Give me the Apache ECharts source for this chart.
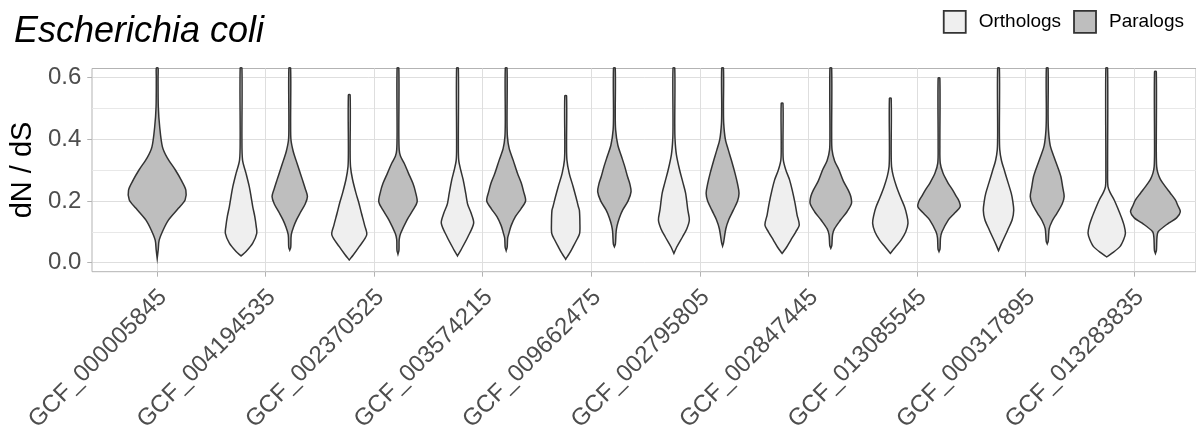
<!DOCTYPE html>
<html><head><meta charset="utf-8">
<script src="https://cdn.jsdelivr.net/npm/echarts@6/dist/echarts.min.js"></script>
<style>html,body{margin:0;padding:0;background:#fff}#c{width:1196px;height:437px}</style>
</head><body><div id="c"></div>
<script>
// ---- data ----
const categories = ['GCF_000005845','GCF_004194535','GCF_002370525','GCF_003574215','GCF_009662475',
  'GCF_002795805','GCF_002847445','GCF_013085545','GCF_000317895','GCF_013283835'];
const yTicks = [0, 0.2, 0.4, 0.6];
const groups = ['Orthologs', 'Paralogs'];
// violin outlines: [dN/dS, relative density] from bottom to top (null = group absent)
const orthologDensity = [
  null,
  [[0.022,0],[0.036,0.2],[0.063,0.47],[0.095,0.63],[0.117,0.61],[0.15,0.55],[0.181,0.47],[0.215,0.40],[0.246,0.33],[0.289,0.2],[0.332,0.06],[0.40,0.035],[1.0,0.035]],
  [[0.009,0],[0.025,0.16],[0.052,0.4],[0.09,0.7],[0.12,0.62],[0.16,0.49],[0.195,0.38],[0.225,0.27],[0.27,0.13],[0.311,0.05],[0.36,0.035],[0.543,0.035]],
  [[0.022,0],[0.04,0.13],[0.084,0.42],[0.128,0.65],[0.16,0.55],[0.18,0.45],[0.192,0.4],[0.225,0.33],[0.268,0.23],[0.30,0.13],[0.332,0.05],[0.38,0.035],[1.0,0.035]],
  [[0.011,0],[0.03,0.15],[0.052,0.3],[0.075,0.45],[0.095,0.56],[0.13,0.57],[0.17,0.55],[0.181,0.51],[0.21,0.42],[0.246,0.3],[0.29,0.14],[0.332,0.05],[0.38,0.035],[0.54,0.035]],
  [[0.03,0],[0.05,0.11],[0.084,0.35],[0.11,0.52],[0.138,0.62],[0.17,0.56],[0.225,0.47],[0.26,0.36],[0.30,0.23],[0.35,0.1],[0.40,0.045],[0.45,0.035],[1.0,0.035]],
  [[0.03,0],[0.05,0.18],[0.073,0.35],[0.1,0.55],[0.122,0.69],[0.155,0.6],[0.192,0.52],[0.23,0.42],[0.268,0.3],[0.30,0.15],[0.332,0.05],[0.38,0.035],[0.516,0.035]],
  [[0.03,0],[0.05,0.2],[0.073,0.43],[0.1,0.62],[0.128,0.71],[0.155,0.66],[0.181,0.57],[0.21,0.42],[0.246,0.25],[0.28,0.12],[0.311,0.05],[0.36,0.035],[0.532,0.035]],
  [[0.039,0],[0.06,0.11],[0.106,0.37],[0.14,0.55],[0.17,0.61],[0.2,0.57],[0.225,0.51],[0.26,0.38],[0.30,0.23],[0.33,0.12],[0.365,0.05],[0.42,0.035],[1.0,0.035]],
  [[0.019,0],[0.03,0.2],[0.052,0.53],[0.075,0.68],[0.095,0.75],[0.12,0.7],[0.149,0.58],[0.175,0.45],[0.203,0.3],[0.225,0.15],[0.246,0.05],[0.3,0.035],[1.0,0.035]]
];
const paralogDensity = [
  [[0.014,0],[0.041,0.04],[0.073,0.08],[0.106,0.24],[0.138,0.45],[0.176,0.85],[0.203,1.12],[0.235,1.15],[0.268,0.96],[0.30,0.73],[0.34,0.4],[0.375,0.21],[0.44,0.1],[0.505,0.045],[0.6,0.035],[1.0,0.035]],
  [[0.041,0],[0.05,0.04],[0.09,0.06],[0.117,0.16],[0.14,0.28],[0.16,0.41],[0.19,0.62],[0.214,0.71],[0.24,0.62],[0.268,0.51],[0.30,0.38],[0.332,0.25],[0.36,0.14],[0.397,0.05],[0.45,0.035],[1.0,0.035]],
  [[0.028,0],[0.04,0.04],[0.075,0.05],[0.095,0.11],[0.138,0.36],[0.17,0.6],[0.197,0.77],[0.23,0.7],[0.257,0.6],[0.29,0.42],[0.322,0.25],[0.345,0.1],[0.365,0.05],[0.42,0.035],[1.0,0.035]],
  [[0.039,0],[0.05,0.04],[0.08,0.06],[0.095,0.11],[0.12,0.2],[0.149,0.37],[0.175,0.6],[0.2,0.78],[0.23,0.7],[0.257,0.61],[0.29,0.45],[0.332,0.28],[0.37,0.12],[0.408,0.05],[0.46,0.035],[1.0,0.035]],
  [[0.052,0],[0.06,0.04],[0.1,0.07],[0.12,0.11],[0.145,0.2],[0.17,0.33],[0.2,0.55],[0.23,0.67],[0.255,0.62],[0.278,0.53],[0.31,0.42],[0.343,0.29],[0.38,0.14],[0.43,0.05],[0.48,0.035],[1.0,0.035]],
  [[0.054,0],[0.065,0.04],[0.11,0.13],[0.14,0.25],[0.17,0.43],[0.2,0.6],[0.225,0.66],[0.255,0.6],[0.289,0.5],[0.33,0.36],[0.365,0.23],[0.40,0.11],[0.451,0.045],[0.5,0.035],[1.0,0.035]],
  [[0.047,0],[0.055,0.04],[0.09,0.07],[0.11,0.15],[0.138,0.39],[0.165,0.65],[0.192,0.83],[0.215,0.8],[0.235,0.7],[0.265,0.5],[0.30,0.33],[0.33,0.15],[0.365,0.05],[0.42,0.035],[1.0,0.035]],
  [[0.036,0],[0.045,0.04],[0.08,0.06],[0.1,0.12],[0.138,0.37],[0.16,0.62],[0.181,0.85],[0.2,0.8],[0.214,0.7],[0.235,0.55],[0.257,0.37],[0.29,0.16],[0.322,0.05],[0.38,0.035],[0.597,0.035]],
  [[0.061,0],[0.07,0.04],[0.11,0.08],[0.135,0.2],[0.16,0.39],[0.19,0.6],[0.214,0.68],[0.245,0.62],[0.278,0.55],[0.31,0.42],[0.343,0.27],[0.38,0.12],[0.43,0.05],[0.48,0.035],[1.0,0.035]],
  [[0.03,0],[0.04,0.04],[0.08,0.06],[0.1,0.11],[0.128,0.53],[0.145,0.85],[0.165,1.0],[0.185,0.9],[0.203,0.8],[0.225,0.6],[0.246,0.4],[0.27,0.2],[0.29,0.1],[0.311,0.05],[0.36,0.035],[0.618,0.035]]
];

// ---- layout / style constants ----
const Y_VIEW_MAX = 0.63;      // upper limit of the visible panel (coord_cartesian)
const DODGE = 0.225;          // group centre offset, fraction of category spacing
const WIDTH_SCALE = 0.2303;   // half-width per density unit, fraction of category spacing
const FILLS = { Orthologs: '#efefef', Paralogs: '#bebebe' };
const OUTLINE = '#333333';
const FONT = 'Liberation Sans, Arial, Helvetica, sans-serif';
const PANEL = { left: 92, top: 68.5, width: 1107, height: 203.2 };
const Y0PX = 262.7, Y06PX = 77.3;
const LABEL_DX = 6;

function makeSeries(name, profiles, other) {
  const data = [];
  profiles.forEach((p, i) => { if (p) data.push([i + 1, 0, i]); });
  return {
    name, type: 'custom', xAxisIndex: 2, yAxisIndex: 2, clip: false, z: 3,
    itemStyle: { color: FILLS[name], borderColor: OUTLINE, borderWidth: 1.5 },
    encode: { x: 0, y: 1 },
    data,
    renderItem: function (params, api) {
      const ci = api.value(2);
      const prof = profiles[ci];
      const band = api.size([1, 0])[0];
      const both = other[ci] != null;
      const sign = name === 'Orthologs' ? -1 : 1;
      const cx = api.coord([api.value(0), 0])[0] + (both ? sign * DODGE * band : 0);
      const right = [], left = [];
      prof.forEach(([v, d]) => {
        const y = api.coord([api.value(0), Math.min(v, Y_VIEW_MAX)])[1];
        const hw = d * WIDTH_SCALE * band;
        right.push([cx + hw, y]);
        left.unshift([cx - hw, y]);
      });
      return {
        type: 'polygon',
        shape: { points: right.concat(left), smooth: 0.3 },
        style: { fill: FILLS[name], stroke: OUTLINE, lineWidth: 1.5 }
      };
    }
  };
}

const chart = echarts.init(document.getElementById('c'), null, { renderer: 'canvas' });
const band = PANEL.width / 10.2;
const catGrid = { left: PANEL.left + 0.6 * band, top: PANEL.top, width: 9 * band, height: PANEL.height };
chart.setOption({
  animation: false,
  backgroundColor: '#ffffff',
  textStyle: { fontFamily: FONT },
  title: {
    text: 'Escherichia coli', left: 9, top: 9,
    textStyle: { fontSize: 36, fontStyle: 'italic', fontWeight: 'normal', color: '#000', fontFamily: FONT }
  },
  legend: {
    top: 5, right: 7, itemWidth: 22, itemHeight: 22, itemGap: 12, icon: 'rect',
    textStyle: { fontSize: 19, color: '#000', fontFamily: FONT, padding: [0, 0, 0, 8] },
    data: groups.map(g => ({ name: g, itemStyle: { color: FILLS[g], borderColor: OUTLINE, borderWidth: 1.8 } }))
  },
  grid: [
    { left: PANEL.left, top: PANEL.top, width: PANEL.width, height: PANEL.height, show: true,
      borderColor: '#b3b3b3', borderWidth: 1, backgroundColor: 'transparent' },
    catGrid,
    { left: PANEL.left, top: Y06PX, width: PANEL.width, height: Y0PX - Y06PX },
    Object.assign({}, catGrid, { left: catGrid.left + LABEL_DX })
  ],
  xAxis: [
    { gridIndex: 0, type: 'value', show: false },
    { gridIndex: 1, type: 'category', data: categories, boundaryGap: false,
      axisLine: { show: false },
      axisTick: { show: true, interval: 0, length: 5, lineStyle: { color: '#b3b3b3', width: 1 } },
      axisLabel: { show: false, interval: 0 },
      splitLine: { show: true, interval: 0, lineStyle: { color: '#dedede', width: 1 } } },
    { gridIndex: 2, type: 'value', min: 0.4, max: 10.6, show: false },
    { gridIndex: 3, type: 'category', data: categories, boundaryGap: false,
      axisLine: { show: false }, axisTick: { show: false }, splitLine: { show: false },
      axisLabel: { rotate: 45, fontSize: 24, color: '#4d4d4d', margin: 22, interval: 0, fontFamily: FONT } }
  ],
  yAxis: [
    { gridIndex: 0, type: 'value', show: false },
    { gridIndex: 1, type: 'value', show: false },
    { gridIndex: 2, type: 'value', min: yTicks[0], max: yTicks[yTicks.length - 1], interval: 0.2,
      name: 'dN / dS', nameLocation: 'middle', nameGap: 53, nameRotate: 90,
      nameTextStyle: { fontSize: 29, color: '#000', fontFamily: FONT },
      axisLine: { show: false },
      axisTick: { show: true, length: 5, lineStyle: { color: '#b3b3b3', width: 1 } },
      axisLabel: { fontSize: 24, color: '#4d4d4d', margin: 11, formatter: v => v.toFixed(1), fontFamily: FONT },
      splitLine: { show: true, lineStyle: { color: '#dedede', width: 1 } },
      minorTick: { show: false, splitNumber: 2 },
      minorSplitLine: { show: true, lineStyle: { color: '#e8e8e8', width: 1 } } },
    { gridIndex: 3, type: 'value', show: false }
  ],
  series: [
    makeSeries('Orthologs', orthologDensity, paralogDensity),
    makeSeries('Paralogs', paralogDensity, orthologDensity)
  ]
});
</script></body></html>
